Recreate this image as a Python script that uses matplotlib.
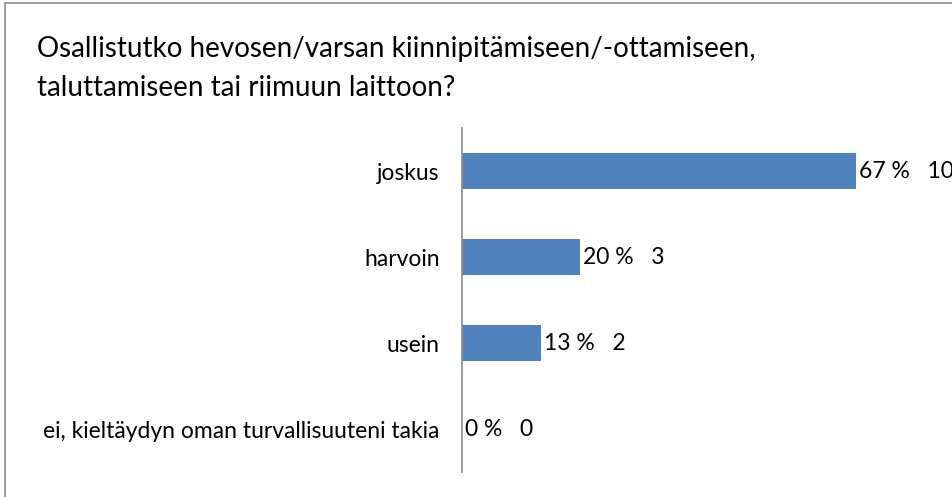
import matplotlib.pyplot as plt
from matplotlib.patches import Rectangle

# data
categories = ["joskus", "harvoin", "usein", "ei, kieltäydyn oman turvallisuuteni takia"]
counts = [10, 3, 2, 0]
title = "Osallistutko hevosen/varsan kiinnipitämiseen/-ottamiseen,\ntaluttamiseen tai riimuun laittoon?"

total = sum(counts)
percents = [round(100 * c / total) for c in counts]

plt.rcParams['font.family'] = ['Lato', 'DejaVu Sans']

fig = plt.figure(figsize=(9.53, 4.97), dpi=100)
fig.patches.append(Rectangle((5 / 953, -0.1), 1.2, 1 - 3 / 497 + 0.1, transform=fig.transFigure,
                             fill=False, edgecolor="#8c8c8c", linewidth=1.2))
fig.text(37 / 953, 1 - 36 / 497, title, fontsize=20, va="top", ha="left",
         linespacing=1.62, color="black")

ax = fig.add_axes([462 / 953, 1 - 472 / 497, 1 - 462 / 953, 344 / 497])
y = list(range(len(categories)))
ax.barh(y, counts, height=0.41, color="#4f81bd")
ax.set_ylim(3.5, -0.5)
ax.set_xlim(0, (953 - 462) / 39.4)

for yi, c, p in zip(y, counts, percents):
    ax.annotate(f"{p} %   {c}", (c, yi), xytext=(2, 0), textcoords="offset points",
                va="center", ha="left", fontsize=16.5)

ax.set_yticks(y)
ax.set_yticklabels(categories, fontsize=16.5)
ax.tick_params(axis="y", length=0, pad=16)
ax.set_xticks([])
for s in ["top", "right", "bottom"]:
    ax.spines[s].set_visible(False)
ax.spines["left"].set_color("#8c8c8c")
ax.spines["left"].set_linewidth(1.2)

fig.savefig("out.png", dpi=100)
